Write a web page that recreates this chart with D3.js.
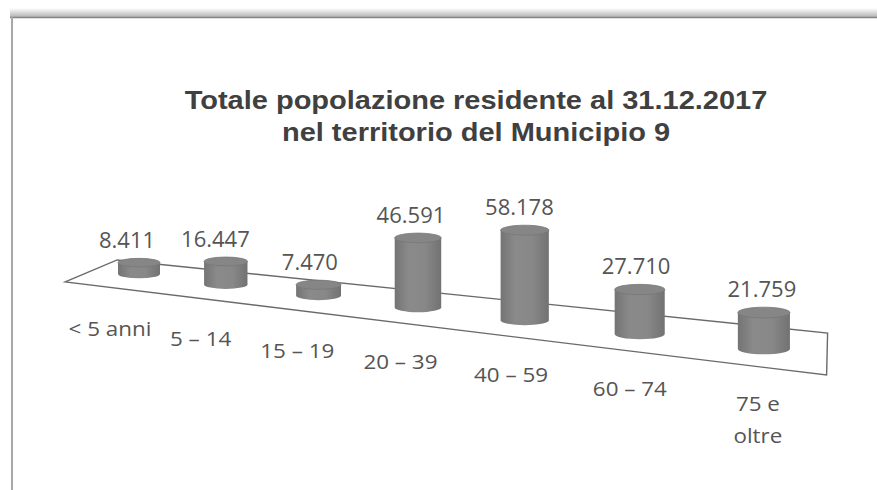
<!DOCTYPE html>
<html>
<head>
<meta charset="utf-8">
<script src="https://cdn.jsdelivr.net/npm/d3@7"></script>
<style>
  html, body { margin: 0; padding: 0; background: #ffffff; }
  svg { display: block; }
</style>
</head>
<body>
<svg id="chart" width="877" height="490"></svg>
<script>
// ---- data -------------------------------------------------------------
const titleLines = [
  "Totale popolazione residente al 31.12.2017",
  "nel territorio del Municipio 9"
];
const categories = ["< 5 anni", "5 – 14", "15 – 19", "20 – 39", "40 – 59", "60 – 74", "75 e\noltre"];
const values = [8411, 16447, 7470, 46591, 58178, 27710, 21759];

// ---- setup ------------------------------------------------------------
const svg = d3.select("#chart");
const fmt = d3.formatLocale({ decimal: ",", thousands: ".", grouping: [3], currency: ["€", ""] }).format(",d");
const n = categories.length;

// position along the row (world units) for each category
const slot = d3.scalePoint().domain(categories).range([0, n - 1]);
// perspective divisor: the row recedes towards the left
const persp = d3.scaleLinear().domain([0, n - 1]).range([1, 0.8064]);
const rowX = d3.scaleLinear().domain([0, n - 1]).range([139, 616]);
const rowY = d3.scaleLinear().domain([0, n - 1]).range([274, 281.4]);
// value -> cylinder height (world units)
const lift = d3.scaleLinear().domain([0, 60000]).range([0, 80.9]);

const RX = 21, RY = 4.33;

function project(X, h) {
  const w = persp(X);
  return { x: rowX(X) / w, y: (rowY(X) - (h || 0)) / w, w: w };
}

// ---- frame ------------------------------------------------------------
const defs = svg.append("defs");
const topShade = defs.append("linearGradient").attr("id", "topShade")
  .attr("x1", 0).attr("y1", 0).attr("x2", 0).attr("y2", 1);
topShade.append("stop").attr("offset", "0%").attr("stop-color", "#ffffff");
topShade.append("stop").attr("offset", "100%").attr("stop-color", "#b4b4b4");

svg.append("rect").attr("x", 10).attr("y", 8).attr("width", 867).attr("height", 9)
  .attr("fill", "url(#topShade)");
svg.append("line").attr("x1", 10).attr("x2", 877).attr("y1", 17.5).attr("y2", 17.5)
  .attr("stroke", "#858585").attr("stroke-width", 1.5);
svg.append("line").attr("x1", 12).attr("x2", 12).attr("y1", 17).attr("y2", 490)
  .attr("stroke", "#a8a8a8").attr("stroke-width", 2);

// ---- title ------------------------------------------------------------
svg.append("g").selectAll("text").data(titleLines).join("text")
  .attr("transform", (d, i) => `translate(476,${109 + i * 32}) scale(1.16,1)`)
  .attr("text-anchor", "middle")
  .attr("font-family", "'Liberation Sans', Arial, sans-serif")
  .attr("font-weight", "bold")
  .attr("font-size", 25)
  .attr("fill", "#404040")
  .text(d => d);

// ---- floor ------------------------------------------------------------
const floorEnds = [-0.58, 6.48];
const halfDepthX = d3.scaleLinear().domain(floorEnds).range([26, 0.5]);
const halfDepthY = d3.scaleLinear().domain(floorEnds).range([-11, -21]);
const skewY = d3.scaleLinear().domain(floorEnds).range([2.7, -2.5]);
function floorPt(X, Z) {
  const p = project(X, 0);
  return [p.x + Z * halfDepthX(X), p.y + Z * halfDepthY(X) + skewY(X)];
}
const floorPts = [
  floorPt(floorEnds[0], -1), floorPt(floorEnds[0], 1),
  floorPt(floorEnds[1], 1), floorPt(floorEnds[1], -1)
];
svg.append("path")
  .attr("d", d3.line()(floorPts) + "Z")
  .attr("fill", "#ffffff")
  .attr("stroke", "#6a6a6a")
  .attr("stroke-width", 1.4)
  .attr("stroke-linejoin", "miter");

// ---- cylinders --------------------------------------------------------
const body = defs.append("linearGradient").attr("id", "cylBody")
  .attr("x1", 0).attr("y1", 0).attr("x2", 1).attr("y2", 0);
[["0%", "#747474"], ["30%", "#8a8a8a"], ["65%", "#888888"], ["100%", "#727272"]]
  .forEach(([o, c]) => body.append("stop").attr("offset", o).attr("stop-color", c));

const rows = categories.map((c, i) => {
  const X = slot(c);
  const base = project(X, 0);
  const top = project(X, lift(values[i]));
  return { cat: c, value: values[i], X, cx: base.x, baseY: base.y, topY: top.y, rx: RX / base.w, ry: RY / base.w };
});

const cyl = svg.append("g").selectAll("g").data(rows).join("g");
cyl.append("path")
  .attr("d", d => `M${d.cx - d.rx},${d.topY} L${d.cx - d.rx},${d.baseY} ` +
    `A${d.rx},${d.ry} 0 0 0 ${d.cx + d.rx},${d.baseY} L${d.cx + d.rx},${d.topY} Z`)
  .attr("fill", "url(#cylBody)");
cyl.append("ellipse")
  .attr("cx", d => d.cx).attr("cy", d => d.topY)
  .attr("rx", d => d.rx).attr("ry", d => d.ry)
  .attr("fill", "#868686")
  .attr("stroke", "#777777").attr("stroke-width", 0.8);

// ---- value labels -----------------------------------------------------
const valueDx = d3.scaleLinear().domain([0, n - 1]).range([-12, -2]);
svg.append("g").selectAll("text").data(rows).join("text")
  .attr("x", d => d.cx + valueDx(d.X))
  .attr("y", d => d.topY - d.ry - 10)
  .attr("text-anchor", "middle")
  .attr("font-family", "'Open Sans', sans-serif")
  .attr("font-size", 22)
  .attr("fill", "#555555")
  .text(d => fmt(d.value));

// ---- category labels --------------------------------------------------
const catDx = d3.scaleLinear().domain([0, n - 1]).range([-29, -6]);
const cats = svg.append("g").selectAll("text").data(rows).join("text")
  .attr("transform", d => `translate(${d.cx + catDx(d.X)},${d.baseY + 62}) scale(1.12,1)`)
  .attr("text-anchor", "middle")
  .attr("font-family", "'Open Sans', sans-serif")
  .attr("font-size", 20)
  .attr("fill", "#555555");
cats.selectAll("tspan").data(d => d.cat.split("\n")).join("tspan")
  .attr("x", 0).attr("dy", (d, i) => i === 0 ? 0 : 32)
  .text(d => d);
</script>
</body>
</html>
